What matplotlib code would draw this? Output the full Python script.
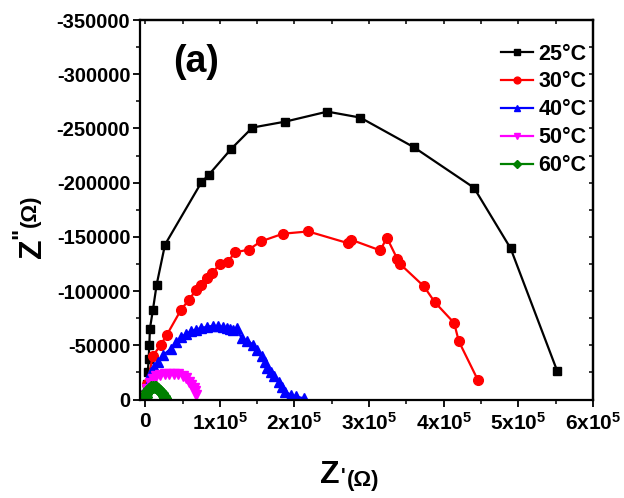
import matplotlib
matplotlib.use("Agg")
import matplotlib.pyplot as plt
from matplotlib.ticker import MultipleLocator, FuncFormatter

plt.rcParams['font.family'] = ['Liberation Sans', 'DejaVu Sans']
plt.rcParams['font.weight'] = 'bold'
plt.rcParams['mathtext.fontset'] = 'custom'
plt.rcParams['mathtext.rm'] = 'Liberation Sans:bold'
plt.rcParams['mathtext.bf'] = 'Liberation Sans:bold'
plt.rcParams['mathtext.it'] = 'Liberation Sans:bold'
plt.rcParams['mathtext.default'] = 'bf'

labels = ['25\u00b0C', '30\u00b0C', '40\u00b0C', '50\u00b0C', '60\u00b0C']

x25 = [1500, 2500, 3500, 4500, 5500, 6300, 10300, 15300, 26500, 75200, 85100, 115300,
       143600, 187800, 244000, 288200, 359900, 440500, 489600, 551800]
y25 = [-4000, -14000, -25000, -37000, -50000, -65400, -82600, -105900, -142800, -200200,
       -207200, -231200, -250800, -256300, -265500, -260000, -232700, -195300, -139400, -26700]

x30 = [1000, 3000, 9900, 21100, 29200, 48100, 58100, 68400, 75100, 82800, 89600, 100000,
       110800, 120200, 138700, 154900, 184600, 218400, 271100, 275700, 314900, 323800,
       337800, 341000, 373400, 388200, 413900, 420200, 445400]
y30 = [-5000, -14000, -39900, -50700, -59900, -82900, -91500, -101300, -105900, -112100,
       -116700, -124600, -127100, -135700, -138200, -145800, -152900, -155000, -144300,
       -147400, -137500, -149200, -129600, -125300, -104400, -89600, -70600, -53700, -18400]

x40 = [1500, 4000, 7600, 12000, 16600, 24000, 34600, 41000, 48100, 55000, 61600, 68000,
       75100, 83000, 90900, 98000, 104500, 109000, 113500, 118000, 122400, 129200, 137000,
       145000, 150000, 156200, 160000, 163000, 168000, 172000, 178800, 183000, 187800,
       195000, 201400, 212600]
y40 = [-4000, -14000, -25000, -30000, -34500, -41000, -47000, -53000, -57500, -60500,
       -63000, -64500, -66000, -67000, -68000, -67500, -67000, -66000, -65000, -64500,
       -65500, -56500, -54000, -50500, -45500, -40000, -35000, -29500, -25000, -22000,
       -16000, -11500, -7000, -4500, -3000, -1000]

x50 = [1000, 3000, 6000, 10000, 15000, 20000, 26000, 32000, 38000, 44000, 50000, 55000,
       59000, 62000, 65000, 67000, 68500]
y50 = [-4000, -10000, -15000, -19000, -21500, -23000, -23500, -23800, -23800, -23200,
       -22000, -19500, -16500, -13500, -10500, -7500, -4500]

x60 = [500, 1500, 3000, 5000, 7500, 10000, 12500, 15000, 17500, 20000, 22500, 25000, 27000]
y60 = [-2000, -5000, -8000, -10000, -11200, -11800, -11800, -11200, -10000, -8200, -6000,
       -3500, -1000]

xticks = [0, 100000, 200000, 300000, 400000, 500000, 600000]
yticks = [0, -50000, -100000, -150000, -200000, -250000, -300000, -350000]

fig = plt.figure(figsize=(6.24, 4.98), dpi=100)
ax = fig.add_axes([140/624, 1 - 399.5/498, (593 - 140)/624, (399.5 - 20)/498])

series = [
    (x25, y25, 'black', 's', 6),
    (x30, y30, 'red', 'o', 7),
    (x40, y40, 'blue', '^', 7),
    (x50, y50, 'magenta', 'v', 7),
    (x60, y60, 'green', 'D', 6),
]
for (xs, ys, c, m, ms), lab in zip(series, labels):
    ax.plot(xs, ys, color=c, marker=m, markersize=ms, linewidth=1.6, label=lab)

ax.set_xlim(-7000, 600000)
ax.set_ylim(0, -350000)
ax.set_xticks(xticks)
ax.set_yticks(yticks)
ax.xaxis.set_minor_locator(MultipleLocator(50000))
ax.yaxis.set_minor_locator(MultipleLocator(25000))

def xfmt(v, pos):
    n = int(round(v / 100000))
    if n == 0:
        return '0'
    return r'%dx10$^{5}$' % n

ax.xaxis.set_major_formatter(FuncFormatter(xfmt))
ax.yaxis.set_major_formatter(FuncFormatter(lambda v, p: '%d' % int(round(v))))

for s in ax.spines.values():
    s.set_linewidth(1.6)

ax.tick_params(which='major', direction='out', length=5, width=1.3)
ax.tick_params(which='minor', direction='out', length=3, width=1.1)
ax.tick_params(axis='y', which='major', labelsize=14.5, pad=2)
ax.tick_params(axis='x', which='major', labelsize=15, pad=4)

secx = ax.secondary_xaxis('top')
secx.set_xticks(xticks)
secx.xaxis.set_minor_locator(MultipleLocator(50000))
secx.tick_params(which='both', direction='in', length=3, width=1.1, labeltop=False)
secx.spines['top'].set_linewidth(1.6)
secy = ax.secondary_yaxis('right')
secy.set_yticks(yticks)
secy.yaxis.set_minor_locator(MultipleLocator(25000))
secy.tick_params(which='both', direction='in', length=3, width=1.1, labelright=False)
secy.spines['right'].set_linewidth(1.6)

for t in ax.get_xticklabels() + ax.get_yticklabels():
    t.set_fontweight('bold')

leg = ax.legend(loc='upper right', bbox_to_anchor=(1.0, 0.955), frameon=False,
                prop={'weight': 'bold', 'size': 15.5}, handlelength=1.5,
                handletextpad=0.25, labelspacing=0.32, markerscale=0.7,
                borderaxespad=0.1, borderpad=0.2)

ax.text(0.073, 0.863, '(a)', transform=ax.transAxes, fontsize=27, fontweight='bold',
        ha='left', va='baseline')

# axis labels
fig.text(320/624, 1 - 483/498, 'Z', fontsize=23, fontweight='bold', ha='left', va='baseline')
fig.text(340.5/624, 1 - 481/498, "'", fontsize=14, fontweight='bold', ha='left', va='baseline')
fig.text(347/624, 1 - 486/498, '(\u03a9)', fontsize=16, fontweight='bold', ha='left', va='baseline')

fig.text(48/624, 1 - 258/498, 'Z', fontsize=23, fontweight='bold', rotation=90,
         ha='right', va='bottom')
fig.text(33/624, 1 - 239/498, '"', fontsize=17, fontweight='bold', rotation=90,
         ha='right', va='bottom')
fig.text(41/624, 1 - 227/498, '(\u03a9)', fontsize=16, fontweight='bold', rotation=90,
         ha='right', va='bottom')

fig.savefig('out.png', dpi=100)
